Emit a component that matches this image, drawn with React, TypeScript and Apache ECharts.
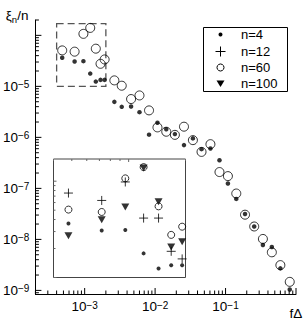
import React, { useEffect, useRef } from "react";
import * as echarts from "echarts";

const FONT = "'Liberation Sans', Arial, Helvetica, sans-serif";

// fΔ values (shared by n=4 and n=60 in the main panel)
const freq = [
  4.8e-4, 7.2e-4, 9.6e-4, 1.2e-3, 1.44e-3, 1.68e-3, 1.92e-3, 2.64e-3, 3.36e-3, 4.56e-3,
  6.0e-3, 8.2e-3, 1.08e-2, 1.44e-2, 1.91e-2, 2.57e-2, 3.44e-2, 4.56e-2, 6.1e-2, 8.2e-2,
  0.108, 0.142, 0.189, 0.255, 0.339, 0.454, 0.6, 0.815,
];
// ξn/n for n=4 (dots)
const xiN4 = [
  3.64e-5, 3.08e-5, 3.12e-5, 1.78e-5, 1.24e-5, 1.34e-5, 1.34e-5, 4.97e-6, 3.97e-6, 4.03e-6,
  3.12e-6, 1.13e-6, 1.94e-6, 1.44e-6, 1.16e-6, 7.05e-7, 9.55e-7, 5.87e-7, 6.05e-7, 3.56e-7,
  1.25e-7, 6.22e-8, 3.15e-8, 1.79e-8, 7.78e-9, 7.11e-9, 2.7e-9, 1.04e-9,
];
// ξn/n for n=60 (open circles)
const xiN60 = [
  5.07e-5, 4.79e-5, 1.07e-4, 1.4e-4, 5.48e-5, 2.77e-5, 3.37e-5, 1.31e-5, 1.03e-5, 5.64e-6,
  6.64e-6, 3.38e-6, 1.57e-6, 1.29e-6, 1.12e-6, 1.62e-6, 8.83e-7, 5.19e-7, 7.36e-7, 2.09e-7,
  1.74e-7, 7.93e-8, 3.05e-8, 1.79e-8, 1.02e-8, 5.58e-9, 3.13e-9, 1.47e-9,
];
// inset (zoom of the dashed box)
const insetFreq = [4.8e-4, 7.2e-4, 9.6e-4, 1.2e-3, 1.44e-3, 1.68e-3, 1.92e-3];
const insetN4 = [3.64e-5, 3.08e-5, 3.12e-5, 1.78e-5, 1.24e-5, 1.34e-5, 1.34e-5];
const insetN12 = [7.53e-5, 6.31e-5, 9.82e-5, 4.14e-5, 4.14e-5, 1.87e-5, 1.56e-5];
const insetN60 = [5.07e-5, 4.79e-5, 1.07e-4, 1.4e-4, 5.48e-5, 2.77e-5, 3.37e-5];
const insetN100 = [2.71e-5, 3.98e-5, 5.4e-5, 1.37e-4, 6.1e-5, 2.07e-5, 2.35e-5];

// axis ranges and ticks
const xRange = [2e-4, 1];
const yRange = [8.5e-10, 2e-4];
const zoomX = [4e-4, 2e-3];
const zoomY = [1e-5, 1.7e-4];
const decades = [1e-10, 1e-9, 1e-8, 1e-7, 1e-6, 1e-5, 1e-4, 1e-3, 1e-2, 1e-1, 1];
const mantissas = [1, 2, 3, 4, 5, 6, 7, 8, 9];
const legendNames = ["n=4", "n=12", "n=60", "n=100"];

const inRange = (v: number, r: number[]) => v >= r[0] * 0.9999 && v <= r[1] * 1.0001;
const majorIn = (r: number[]) => decades.filter((d) => inRange(d, r));
const minorIn = (r: number[]) => {
  const out: number[] = [];
  decades.forEach((d) => mantissas.slice(1).forEach((m) => {
    const v = +(d * m).toPrecision(6);
    if (inRange(v, r)) out.push(v);
  }));
  return out;
};

const tickSeries = (
  axisIdx: number, values: number[], side: "left" | "bottom" | "top",
  len: number, color: string, other: number,
) => ({
  type: "custom",
  xAxisIndex: axisIdx,
  yAxisIndex: axisIdx,
  silent: true,
  clip: false,
  z: 6,
  data: values.map((v) => (side === "left" ? [other, v] : [v, other])),
  renderItem: (params: any, api: any) => {
    const cs = params.coordSys;
    const p = api.coord([api.value(0), api.value(1)]);
    let shape;
    if (side === "left") shape = { x1: cs.x, y1: p[1], x2: cs.x + len, y2: p[1] };
    else if (side === "bottom")
      shape = { x1: p[0], y1: cs.y + cs.height, x2: p[0], y2: cs.y + cs.height - len };
    else shape = { x1: p[0], y1: cs.y, x2: p[0], y2: cs.y + len };
    return { type: "line", shape, style: { stroke: color, lineWidth: 1 } };
  },
});

const rich = {
  b: { fontSize: 13.5, lineHeight: 13, padding: [6, 0, 6, 0], fontFamily: FONT, color: "#000" },
  s: { fontSize: 10, lineHeight: 10, verticalAlign: "top", fontFamily: FONT, color: "#000" },
};
const powLabel = (v: number) => {
  const e = Math.round(Math.log10(v));
  return `{b|10}{s|${e < 0 ? "\u2212" : ""}${Math.abs(e)}}`;
};

const PLUS = "path://M0 5H10M5 0V10";

export default function App() {
  const ref = useRef<HTMLDivElement>(null);
  useEffect(() => {
    if (!ref.current) return;
    const chart = echarts.init(ref.current, undefined, { renderer: "svg" });
    const legendY = [34.5, 51.5, 67.5, 83.5];
    const legendX = 220.5;
    const option: any = {
      animation: false,
      backgroundColor: "#fff",
      textStyle: { fontFamily: FONT },
      grid: [
        { left: 34, top: 20, right: 12, bottom: 33 },
        {
          left: 53.5, top: 159, width: 132, height: 118.5, show: true,
          borderColor: "#444", borderWidth: 1, backgroundColor: "#fff", z: 1,
        },
      ],
      xAxis: [
        {
          type: "log", gridIndex: 0, min: xRange[0], max: xRange[1],
          axisLine: { lineStyle: { color: "#000", width: 1 } },
          axisTick: { show: false },
          splitLine: { show: false },
          axisLabel: {
            margin: 6, showMinLabel: false, showMaxLabel: false,
            formatter: powLabel, rich,
          },
          name: "f\u0394", nameLocation: "end", nameGap: 0,
          nameTextStyle: {
            align: "center", verticalAlign: "top", padding: [12, 0, 0, 0],
            fontSize: 13.5, color: "#000", fontFamily: FONT,
          },
        },
        {
          type: "log", gridIndex: 1, min: zoomX[0], max: zoomX[1],
          axisLine: { show: false }, axisTick: { show: false },
          axisLabel: { show: false }, splitLine: { show: false },
        },
      ],
      yAxis: [
        {
          type: "log", gridIndex: 0, min: yRange[0], max: yRange[1],
          axisLine: { lineStyle: { color: "#000", width: 1 } },
          axisTick: { show: false },
          splitLine: { show: false },
          axisLabel: {
            margin: 6, showMinLabel: false, showMaxLabel: false,
            formatter: (v: number) => (Math.round(Math.log10(v)) === -4 ? "" : powLabel(v)),
            rich,
          },
          name: "{a|\u03be}{s|n}{a|/n}", nameLocation: "end", nameGap: 5,
          nameTextStyle: {
            align: "right", verticalAlign: "middle", padding: [0, 7, 0, 0],
            rich: {
              a: { fontSize: 13.5, lineHeight: 15, fontFamily: FONT, color: "#000" },
              s: { fontSize: 9.5, lineHeight: 10, padding: [9, 0, 0, 0], fontFamily: FONT, color: "#000" },
            },
          },
        },
        {
          type: "log", gridIndex: 1, min: zoomY[0], max: zoomY[1],
          axisLine: { show: false }, axisTick: { show: false },
          axisLabel: { show: false }, splitLine: { show: false },
        },
      ],
      series: [
        // dashed zoom box
        {
          type: "custom", xAxisIndex: 0, yAxisIndex: 0, silent: true, z: 4, clip: false,
          data: [[zoomX[0], zoomY[1], zoomX[1], zoomY[0]]],
          renderItem: (params: any, api: any) => {
            const p1 = api.coord([api.value(0), api.value(1)]);
            const p2 = api.coord([api.value(2), api.value(3)]);
            return {
              type: "rect",
              shape: { x: p1[0], y: p1[1], width: p2[0] - p1[0], height: p2[1] - p1[1] },
              style: { fill: "none", stroke: "#555", lineWidth: 1.3, lineDash: [7, 4] },
            };
          },
        },
        // main ticks
        tickSeries(0, majorIn(xRange), "bottom", 6, "#000", yRange[0]),
        tickSeries(0, minorIn(xRange), "bottom", 3.5, "#000", yRange[0]),
        tickSeries(0, majorIn(yRange), "left", 6, "#000", xRange[0]),
        tickSeries(0, minorIn(yRange), "left", 3.5, "#000", xRange[0]),
        // inset ticks
        tickSeries(1, majorIn(zoomX), "top", 3, "#666", zoomY[1]),
        tickSeries(1, minorIn(zoomX), "top", 2, "#666", zoomY[1]),
        tickSeries(1, majorIn(zoomY), "left", 3, "#666", zoomX[0]),
        tickSeries(1, minorIn(zoomY), "left", 2, "#666", zoomX[0]),
        // main data
        {
          name: "n=4", type: "scatter", xAxisIndex: 0, yAxisIndex: 0, clip: false, z: 5,
          data: freq.map((f, i) => [f, xiN4[i]]),
          symbol: "circle", symbolSize: 4.5, itemStyle: { color: "#000" },
        },
        {
          name: "n=60", type: "scatter", xAxisIndex: 0, yAxisIndex: 0, clip: false, z: 5,
          data: freq.map((f, i) => [f, xiN60[i]]),
          symbol: "circle", symbolSize: 9,
          itemStyle: { color: "rgba(0,0,0,0)", borderColor: "#000", borderWidth: 1 },
        },
        // inset data
        {
          name: "n=4", type: "scatter", xAxisIndex: 1, yAxisIndex: 1, clip: false, z: 5,
          data: insetFreq.map((f, i) => [f, insetN4[i]]),
          symbol: "circle", symbolSize: 4, itemStyle: { color: "#000" },
        },
        {
          name: "n=12", type: "scatter", xAxisIndex: 1, yAxisIndex: 1, clip: false, z: 5,
          data: insetFreq.map((f, i) => [f, insetN12[i]]),
          symbol: PLUS, symbolSize: 9,
          itemStyle: { color: "#000", borderColor: "#000", borderWidth: 1 },
        },
        {
          name: "n=60", type: "scatter", xAxisIndex: 1, yAxisIndex: 1, clip: false, z: 5,
          data: insetFreq.map((f, i) => [f, insetN60[i]]),
          symbol: "circle", symbolSize: 7,
          itemStyle: { color: "rgba(0,0,0,0)", borderColor: "#000", borderWidth: 1 },
        },
        {
          name: "n=100", type: "scatter", xAxisIndex: 1, yAxisIndex: 1, clip: false, z: 5,
          data: insetFreq.map((f, i) => [f, insetN100[i]]),
          symbol: "triangle", symbolRotate: 180, symbolSize: [8, 7],
          itemStyle: { color: "#000" },
        },
      ],
      graphic: [
        {
          type: "rect", z: 10,
          shape: { x: 203.5, y: 27.5, width: 84, height: 64 },
          style: { fill: "#fff", stroke: "#000", lineWidth: 1 },
        },
        { type: "circle", z: 11, shape: { cx: legendX, cy: legendY[0], r: 2 }, style: { fill: "#000" } },
        {
          type: "line", z: 11,
          shape: { x1: legendX - 5, y1: legendY[1], x2: legendX + 5, y2: legendY[1] },
          style: { stroke: "#000", lineWidth: 1 },
        },
        {
          type: "line", z: 11,
          shape: { x1: legendX, y1: legendY[1] - 5, x2: legendX, y2: legendY[1] + 5 },
          style: { stroke: "#000", lineWidth: 1 },
        },
        {
          type: "circle", z: 11, shape: { cx: legendX, cy: legendY[2], r: 3.5 },
          style: { fill: "none", stroke: "#000", lineWidth: 1 },
        },
        {
          type: "polygon", z: 11,
          shape: {
            points: [
              [legendX - 4, legendY[3] - 3],
              [legendX + 4, legendY[3] - 3],
              [legendX, legendY[3] + 3.5],
            ],
          },
          style: { fill: "#000" },
        },
        ...legendNames.map((t, i) => ({
          type: "text", z: 11, x: 241, y: legendY[i],
          style: {
            text: t, fontSize: 13, fontFamily: FONT, fill: "#000",
            verticalAlign: "middle", align: "left",
          },
        })),
      ],
    };
    chart.setOption(option);
    return () => chart.dispose();
  }, []);
  return (
    <div
      ref={ref}
      style={{ position: "fixed", left: 0, top: 0, width: 308, height: 327, background: "#fff" }}
    />
  );
}
